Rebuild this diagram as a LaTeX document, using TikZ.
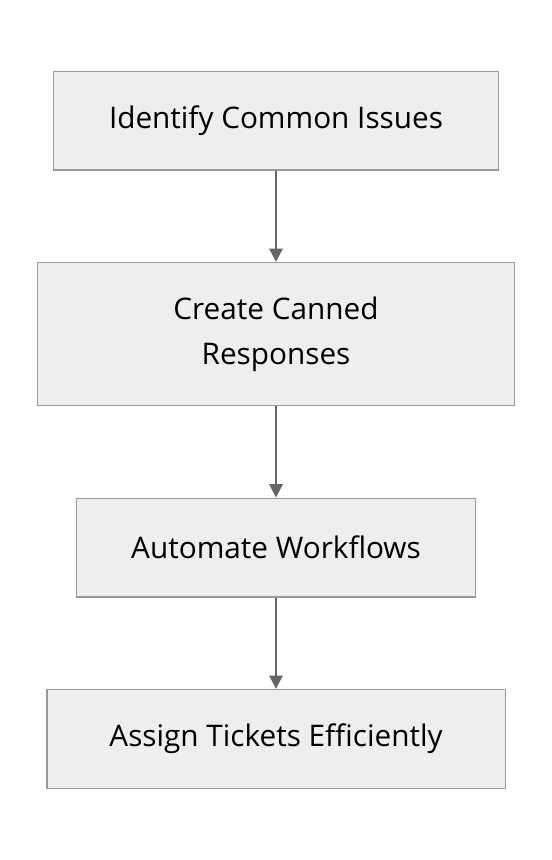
\documentclass[tikz,border=0pt]{standalone}
\usepackage{fontspec}
\setmainfont{Open Sans}
\usetikzlibrary{positioning,arrows.meta}

\definecolor{boxfill}{HTML}{EEEEEE}
\definecolor{boxline}{HTML}{999999}
\definecolor{flowline}{HTML}{666666}

\begin{document}
\begin{tikzpicture}[
  x=0.75pt, y=-0.75pt,
  node distance=68.5pt,
  every node/.style={font=\fontsize{22.3}{33.75}\selectfont},
  stepbox/.style={
    draw=boxline,
    fill=boxfill,
    line width=1pt,
    align=center,
    inner sep=0pt,
    minimum height=74pt
  },
  flow/.style={
    draw=flowline,
    line width=1.5pt,
    -{Triangle[length=10pt,width=10pt]}
  }
]
  \useasboundingbox (0,0) rectangle (552,860);
  \node[stepbox, minimum width=334pt] (identify) at (276,120.5) {Identify Common Issues};
  \node[stepbox, minimum width=358pt, minimum height=107.25pt, below=of identify] (canned) {Create Canned\\Responses};
  \node[stepbox, minimum width=299.5pt, below=of canned] (automate) {Automate Workflows};
  \node[stepbox, minimum width=343.75pt, below=of automate] (assign) {Assign Tickets Efficiently};
  % arrows between the steps
  \draw[flow] (identify) -- (canned);
  \draw[flow] (canned) -- (automate);
  \draw[flow] (automate) -- (assign);
\end{tikzpicture}
\end{document}
